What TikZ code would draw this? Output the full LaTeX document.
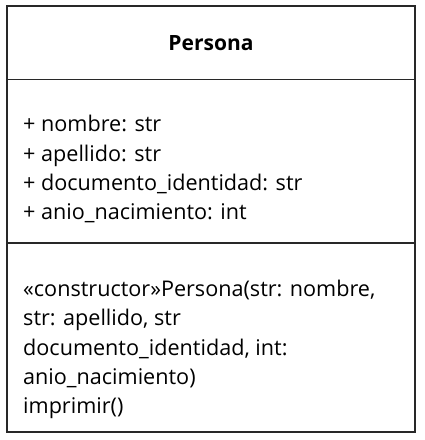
\documentclass[tikz,border=0pt]{standalone}
\usepackage{fontspec}
\setmainfont{Open Sans}
\definecolor{linec}{RGB}{40,40,40}
\begin{document}
\begin{tikzpicture}[x=1pt,y=-1pt,
  box/.style={draw=linec,line width=1.3pt},
  txt/.style={anchor=base west,inner sep=0pt,font=\fontsize{21.6}{29.3}\selectfont},
  ttl/.style={anchor=base,inner sep=0pt,font=\fontsize{21}{24}\selectfont\bfseries}]
\useasboundingbox (0,0) rectangle (424,440);
\fill[white] (0,0) rectangle (424,440);
\draw[box] (7,6) rectangle (415,432);
\draw[box,line width=1.8pt] (7,79.5) coordinate (d1a) -- (415,79.5) coordinate (d1b);
\draw[box,line width=1.8pt] (7,243) coordinate (d2a) -- (415,243) coordinate (d2b);
\node[ttl] (title) at (211,50) {Persona};
\node[txt] (a1) at (23,131.5) {+ nombre: str};
\node[txt] (a2) at (23,161) {+ apellido: str};
\node[txt] (a3) at (23,190.3) {+ documento\_identidad: str};
\node[txt] (a4) at (23,219.6) {+ anio\_nacimiento: int};
\node[txt] (m1) at (23,296.5) {«constructor»Persona(str: nombre,};
\node[txt] (m2) at (23,325.8) {str: apellido, str};
\node[txt] (m3) at (23,355.1) {documento\_identidad, int:};
\node[txt] (m4) at (23,384.4) {anio\_nacimiento)};
\node[txt] (m5) at (23,413.7) {imprimir()};
\end{tikzpicture}
\end{document}
